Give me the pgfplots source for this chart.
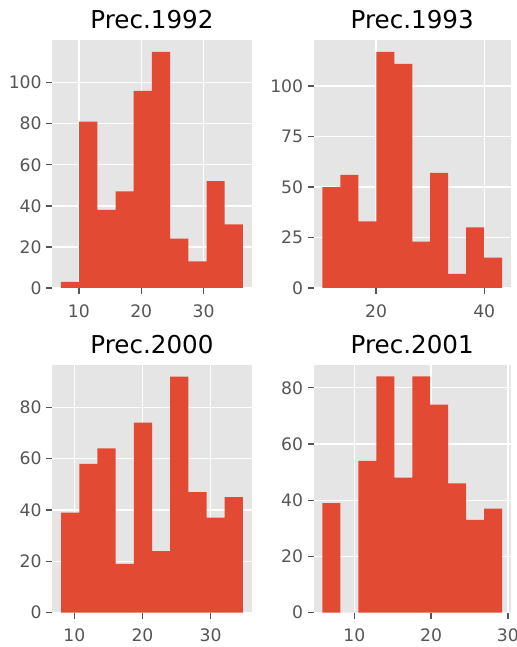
\documentclass[border=0pt]{standalone}
\usepackage{pgfplots}
\pgfplotsset{compat=1.18}
\usepackage{fontspec}
\setmainfont{DejaVu Sans}
\definecolor{bggray}{HTML}{E5E5E5}
\definecolor{histred}{HTML}{E24A33}
\definecolor{tickgray}{HTML}{555555}
\pgfplotsset{gg/.style={
  scale only axis, anchor=south west,
  axis background/.style={fill=bggray},
  axis line style={draw=none},
  xmajorgrids, ymajorgrids,
  grid style={white, line width=0.69pt},
  tick align=outside, major tick length=3pt,
  tick style={tickgray, line width=0.69pt},
  xtick pos=bottom, ytick pos=left,
  minor tick num=0,
  ymin=0,
  tick label style={font=\fontsize{8.6}{10}\selectfont, text=tickgray, inner sep=0pt},
  xticklabel shift=5pt, yticklabel shift=2pt,
  /pgf/number format/assume math mode=true,
  scaled ticks=false,
  every axis title shift=0pt,
  title style={font=\fontsize{12.3}{14}\selectfont, at={(0.5,1)}, anchor=base, yshift=5.5pt, inner sep=0pt},
}}
\begin{document}
\begin{tikzpicture}
\begin{axis}[gg, at={(26pt,179.5pt)}, width=100pt, height=124pt,
  xmin=5.69, xmax=37.76, ymax=120.75,
  xtick={10,20,30}, ytick={0,20,40,60,80,100}, title={Prec.1992}]
\addplot[ybar interval, fill=histred, draw=none] coordinates {
(7.13,3) (10.047,81) (12.964,38) (15.881,47) (18.798,96) (21.715,115) (24.632,24) (27.549,13) (30.466,52) (33.383,31) (36.3,0)};
\end{axis}
\begin{axis}[gg, at={(156.75pt,179.5pt)}, width=98.75pt, height=124pt,
  xmin=8.409, xmax=44.951, ymax=122.85,
  xtick={20,40}, ytick={0,25,50,75,100}, title={Prec.1993}]
\addplot[ybar interval, fill=histred, draw=none] coordinates {
(10.07,50) (13.392,56) (16.714,33) (20.036,117) (23.358,111) (26.68,23) (30.002,57) (33.324,7) (36.646,30) (39.968,15) (43.29,0)};
\end{axis}
\begin{axis}[gg, at={(26pt,17.15pt)}, width=100pt, height=124pt,
  xmin=6.715, xmax=36.085, ymax=96.6,
  xtick={10,20,30}, ytick={0,20,40,60,80}, title={Prec.2000}]
\addplot[ybar interval, fill=histred, draw=none] coordinates {
(8.05,39) (10.72,58) (13.39,64) (16.06,19) (18.73,74) (21.4,24) (24.07,92) (26.74,47) (29.41,37) (32.08,45) (34.75,0)};
\end{axis}
\begin{axis}[gg, at={(156.75pt,17.15pt)}, width=98.75pt, height=124pt,
  xmin=4.69, xmax=30.40, ymax=88.2,
  xtick={10,20,30}, ytick={0,20,40,60,80}, title={Prec.2001}]
\addplot[ybar interval, fill=histred, draw=none] coordinates {
(5.86,39) (8.197,0) (10.534,54) (12.871,84) (15.208,48) (17.545,84) (19.882,74) (22.219,46) (24.556,33) (26.893,37) (29.23,0)};
\end{axis}
\pgfresetboundingbox
\useasboundingbox (0,0) rectangle (258pt,323.5pt);
\end{tikzpicture}
\end{document}
